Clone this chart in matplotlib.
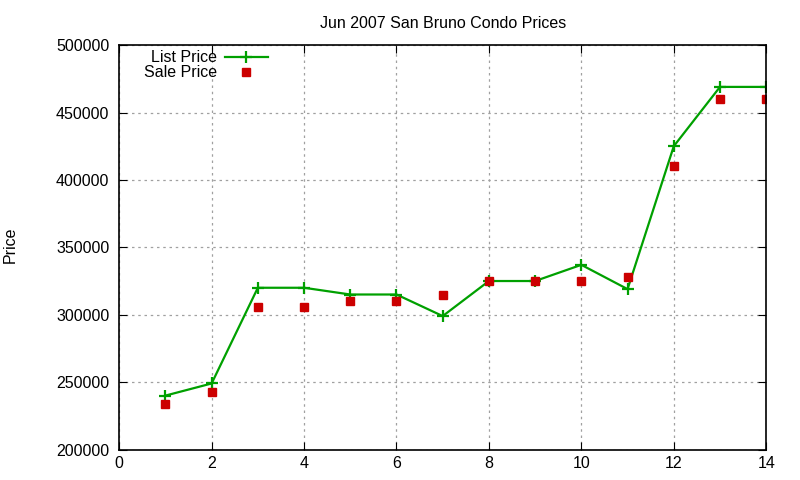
import matplotlib
matplotlib.use('Agg')
import matplotlib.pyplot as plt

plt.rcParams['font.family'] = ['Liberation Sans', 'DejaVu Sans']

# data
months = [1, 2, 3, 4, 5, 6, 7, 8, 9, 10, 11, 12, 13, 14]
list_price = [240000, 249000, 320000, 320000, 315000, 315000, 299000,
              325000, 325000, 337000, 319000, 425000, 469000, 469000]
sale_price = [234000, 242500, 306000, 306000, 310000, 310000, 315000,
              325000, 325000, 325000, 328000, 410000, 460000, 460000]
xticks = [0, 2, 4, 6, 8, 10, 12, 14]
yticks = [200000, 250000, 300000, 350000, 400000, 450000, 500000]

fig = plt.figure(figsize=(8, 4.8), dpi=100)
ax = fig.add_axes([0.149, 0.0635, 0.80875, 0.8425])

ax.plot(months, list_price, color='#00a000', lw=1.6, marker='+', ms=8, mew=1.6,
        label='List Price')
ax.plot(months, sale_price, ls='none', color='#cc0000', marker='s', ms=6,
        label='Sale Price')

ax.set_xlim(0, 14)
ax.set_ylim(200000, 500000)
ax.set_xticks(xticks)
ax.set_yticks(yticks)
ax.tick_params(direction='in', top=True, right=True, labelsize=11.5, length=6)
ax.tick_params(axis='y', pad=7)
ax.tick_params(axis='x', pad=5)
ax.grid(True, color='#a0a0a0', ls=(0, (2, 3)), lw=0.9)
for s in ax.spines.values():
    s.set_linewidth(1.2)

ax.set_title('Jun 2007 San Bruno Condo Prices', fontsize=11.5, pad=12)
fig.text(0.004, 0.49, 'Price', rotation=90, fontsize=11.5, va='center', ha='left')

ax.legend(loc='upper right', markerfirst=False, frameon=False, fontsize=11.5,
          handlelength=2.7, borderpad=0, borderaxespad=0, handletextpad=0.5,
          labelspacing=0.0, bbox_to_anchor=(0.335, 0.895),
          bbox_transform=fig.transFigure)

fig.savefig('out.png', dpi=100)
